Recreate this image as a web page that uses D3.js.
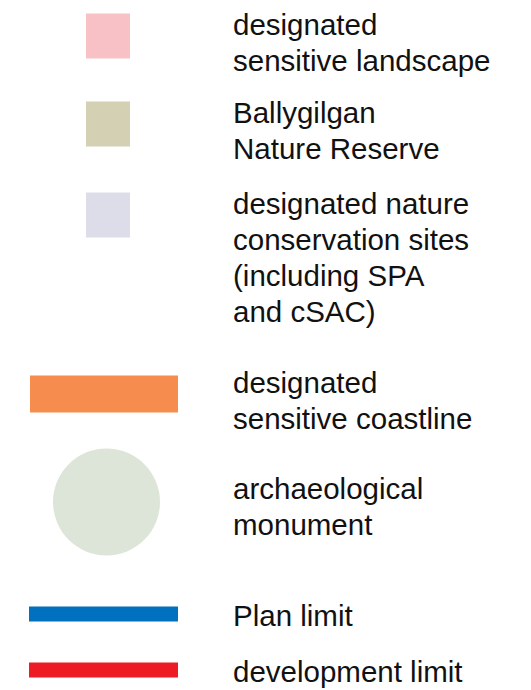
<!DOCTYPE html>
<html>
<head>
<meta charset="utf-8">
<script src="https://cdn.jsdelivr.net/npm/d3@7"></script>
<style>
    body { margin: 0; background: #fff; }
    text { font-family: "Liberation Sans", Arial, Helvetica, sans-serif; fill: #111; }
</style>
</head>
<body>
<div id="legend"></div>
<script>
// legend entries
const keys = ['landscape', 'reserve', 'nature', 'coastline', 'monument', 'plan', 'development'];
const labels = [
    ['designated', 'sensitive landscape'],
    ['Ballygilgan', 'Nature Reserve'],
    ['designated nature', 'conservation sites', '(including SPA', 'and cSAC)'],
    ['designated', 'sensitive coastline'],
    ['archaeological', 'monument'],
    ['Plan limit'],
    ['development limit'],
];
const swatchColors = ['#f8c1c6', '#d4d0b3', '#dddde9', '#f68d4e', '#dde5d8', '#0070bf', '#ed1c24'];
const swatchShapes = ['square', 'square', 'square', 'bar', 'circle', 'line', 'line'];

const width = 531, height = 690;
const color = d3.scaleOrdinal(keys, swatchColors);
const shape = d3.scaleOrdinal(keys, swatchShapes);

// ----- layout: stack text blocks, gap after each entry
const lineHeight = 36;
const gaps = [16, 19, 35, 34, 55, 20];
let y = 35;
const rows = keys.map((k, i) => {
    const row = { key: k, lines: labels[i], baseline: y };
    y += labels[i].length * lineHeight + (gaps[i] || 0);
    return row;
});

const svg = d3.select('#legend').append('svg')
    .attr('width', width)
    .attr('height', height);

const g = svg.selectAll('g.entry')
    .data(rows)
    .enter()
    .append('g')
    .attr('class', 'entry');

// symbols, centred around the first text line
g.each(function (d) {
    const el = d3.select(this);
    const s = shape(d.key);
    const cy = d.baseline + (s === 'line' ? -12 : 1);
    if (s === 'square') {
        el.append('rect').attr('x', 86).attr('y', cy - 22.5).attr('width', 44).attr('height', 45).attr('fill', color(d.key));
    } else if (s === 'bar') {
        el.append('rect').attr('x', 30).attr('y', cy - 18.5).attr('width', 148).attr('height', 37).attr('fill', color(d.key));
    } else if (s === 'circle') {
        el.append('circle').attr('cx', 106.5).attr('cy', cy + 2).attr('r', 53.5).attr('fill', color(d.key));
    } else {
        el.append('rect').attr('x', 29).attr('y', cy - 7.5).attr('width', 149).attr('height', 15).attr('fill', color(d.key));
    }
});

// labels
g.append('text')
    .attr('x', 233)
    .attr('y', d => d.baseline)
    .style('font-size', '29.5px')
    .selectAll('tspan')
    .data(d => d.lines)
    .enter()
    .append('tspan')
    .attr('x', 233)
    .attr('dy', (l, i) => i ? lineHeight : 0)
    .text(l => l);
</script>
</body>
</html>
